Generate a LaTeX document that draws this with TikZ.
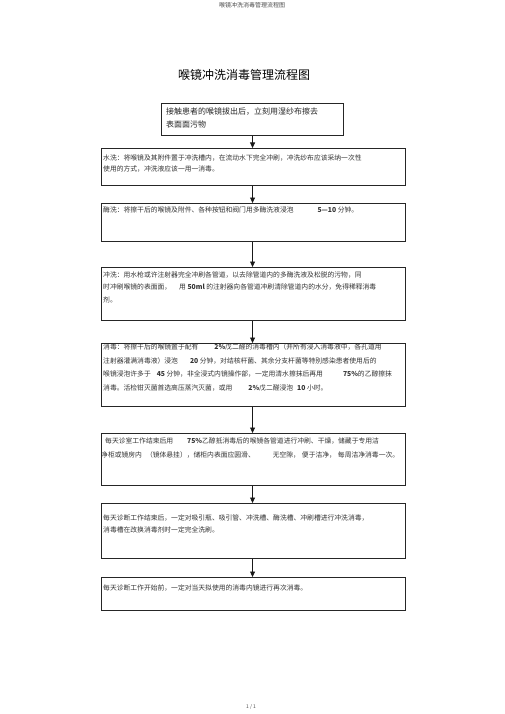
\documentclass[tikz,border=0pt]{standalone}
\usepackage{fontspec}
\newfontfamily\cjk{Noto Sans CJK SC}
\usetikzlibrary{arrows.meta,calc}
\tikzset{
  box/.style={draw=black!85, line width=1.1pt, rectangle, inner sep=0pt, anchor=north west},
  txt/.style={font=\cjk\fontsize{6.8}{#1}\selectfont, align=left, anchor=north west, inner sep=0pt, text=black!80},
  arr/.style={-{Triangle[length=5.5pt,width=5pt]}, line width=0.9pt, draw=black!90}
}
\begin{document}
\begin{tikzpicture}[x=1pt,y=-1pt]
\useasboundingbox (0,0) rectangle (505,714);
\fill[white] (0,0) rectangle (505,714);
% header / title / footer
\node[font=\cjk\fontsize{6}{6}\selectfont, text=black!70, inner sep=0pt] (hdr) at (252,5) {喉镜冲洗消毒管理流程图};
\node[font=\cjk\fontsize{12}{12}\selectfont, inner sep=0pt] (title) at (244,75) {喉镜冲洗消毒管理流程图};
\node[font=\cjk\fontsize{5}{5}\selectfont, text=black!70, inner sep=0pt] (ftr) at (251,707) {1 / 1};
% boxes
\node[box, minimum width=182pt, minimum height=32pt] (b1) at (161,103) {};
\node[box, minimum width=304pt, minimum height=37pt] (b2) at (101,148) {};
\node[box, minimum width=304pt, minimum height=38pt] (b3) at (101,203) {};
\node[box, minimum width=304pt, minimum height=53pt] (b4) at (101,267) {};
\node[box, minimum width=304pt, minimum height=63pt] (b5) at (101,343) {};
\node[box, minimum width=304pt, minimum height=52pt] (b6) at (101,433) {};
\node[box, minimum width=304pt, minimum height=55pt] (b7) at (101,503) {};
\node[box, minimum width=304pt, minimum height=33pt] (b8) at (101,577) {};
% texts
\node[font=\cjk\fontsize{8}{13}\selectfont, align=left, anchor=north west, inner sep=0pt, text=black!85] (t1) at (166,108) {接触患者的喉镜拔出后，立刻用湿纱布擦去\\表面面污物};
\node[txt=11] (t2) at (103,154.5) {水洗：将喉镜及其附件置于冲洗槽内，在流动水下完全冲刷，冲洗纱布应该采纳一次性\\使用的方式，冲洗液应该一用一消毒。};
\node[txt=12] (t3) at (103,206.5) {酶洗：将擦干后的喉镜及附件、各种按钮和阀门用多酶洗液浸泡\hspace{24pt}\textbf{5—10} 分钟。};
\node[txt=12.5] (t4) at (103,271.5) {冲洗：用水枪或许注射器完全冲刷各管道，以去除管道内的多酶洗液及松脱的污物，同\\时冲刷喉镜的表面面，\hspace{8pt}用 \textbf{50ml} 的注射器向各管道冲刷清除管道内的水分，免得稀释消毒\\剂。};
\node[txt=13.6] (t5) at (103,343.5) {消毒：将擦干后的喉镜置于配有\hspace{16pt}\textbf{2\%}戊二醛的消毒槽内（并所有浸入消毒液中，各孔道用\\注射器灌满消毒液）浸泡\hspace{12pt}\textbf{20} 分钟，对结核杆菌、其余分支杆菌等特别感染患者使用后的\\喉镜浸泡许多于\hspace{6pt}\textbf{45} 分钟，非全浸式内镜操作部，一定用清水擦抹后再用\hspace{20pt}\textbf{75\%}的乙醇擦抹\\消毒。活检钳灭菌首选高压蒸汽灭菌，或用\hspace{16pt}\textbf{2\%}戊二醛浸泡\hspace{4pt}\textbf{10} 小时。};
\node[txt=14] (t6) at (101,437.5) {\hspace*{4pt}每天诊室工作结束后用\hspace{14pt}\textbf{75\%}乙醇抵消毒后的喉镜各管道进行冲刷、干燥，储藏于专用洁\\净柜或镜房内\hspace{4pt}（镜体悬挂），储柜内表面应圆滑、\hspace{18pt}无空隙，\hspace{2pt}便于洁净，\hspace{2pt}每周洁净消毒一次。};
\node[txt=12] (t7) at (103,514.5) {每天诊断工作结束后，一定对吸引瓶、吸引管、冲洗槽、酶洗槽、冲刷槽进行冲洗消毒，\\消毒槽在改换消毒剂时一定完全洗刷。};
\node[txt=12] (t8) at (103,584.5) {每天诊断工作开始前，一定对当天拟使用的消毒内镜进行再次消毒。};
% connectors
\draw[arr] (b1.south) -- (b1.south |- b2.north);
\draw[arr] (b1.south |- b2.south) -- (b1.south |- b3.north);
\draw[arr] (b1.south |- b3.south) -- (b1.south |- b4.north);
\draw[arr] (b1.south |- b4.south) -- (b1.south |- b5.north);
\draw[arr] (b1.south |- b5.south) -- (b1.south |- b6.north);
\draw[arr] (b1.south |- b6.south) -- (b1.south |- b7.north);
\draw[arr] (b1.south |- b7.south) -- (b1.south |- b8.north);
\end{tikzpicture}
\end{document}
